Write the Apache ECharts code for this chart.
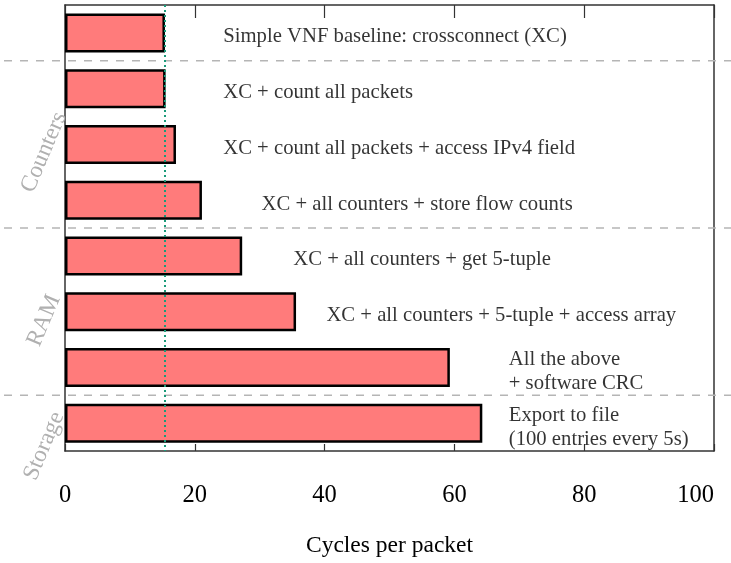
<!DOCTYPE html>
<html>
<head>
<meta charset="utf-8">
<script src="https://cdn.jsdelivr.net/npm/echarts@6/dist/echarts.min.js"></script>
<style>
  html, body { margin: 0; padding: 0; background: #fff; }
  #chart { width: 731px; height: 563px; }
</style>
</head>
<body>
<div id="chart"></div>
<script>
// ---- data ----
const categories = [
  'Simple VNF baseline: crossconnect (XC)',
  'XC + count all packets',
  'XC + count all packets + access IPv4 field',
  'XC + all counters + store flow counts',
  'XC + all counters + get 5-tuple',
  'XC + all counters + 5-tuple + access array',
  'All the above\n+ software CRC',
  'Export to file\n(100 entries every 5s)'
];
const cyclesPerPacket = [15.4, 15.5, 17.1, 21.1, 27.3, 35.6, 59.3, 64.3];
const labelAnchorX = [24.3, 24.3, 24.3, 30.2, 35.1, 40.2, 68.3, 68.3];
const baselineCycles = 15.3;
const xTickValues = [0, 20, 40, 60, 80, 100];
const groupNames = ['Counters', 'RAM', 'Storage'];
const groupCenters = [2.14, 5.16, 7.41];   // in category units
const separatorsAt = [0.5, 3.5, 6.5];      // boundaries between categories

// ---- chart ----
const FONT = 'Liberation Serif';
const chart = echarts.init(document.getElementById('chart'), null, { renderer: 'canvas' });

const labelData = labelAnchorX.map((x, i) => [x, i]);

const option = {
  animation: false,
  backgroundColor: '#ffffff',
  grid: { left: 65, right: 17, top: 5, bottom: 110, containLabel: false },
  xAxis: [
    {
      type: 'value', min: 0, max: 100, interval: 20, position: 'bottom',
      name: 'Cycles per packet', nameLocation: 'middle', nameGap: 83,
      nameTextStyle: { fontFamily: FONT, fontSize: 23.5, color: '#000' },
      axisLine: { show: true, onZero: false, lineStyle: { color: '#333', width: 1.5 } },
      axisTick: { show: true, inside: true, length: 7, lineStyle: { color: '#333', width: 1.2 } },
      axisLabel: {
        show: true, margin: 32, fontFamily: FONT, fontSize: 24.5, color: '#000',
        alignMaxLabel: 'right',
        formatter: v => xTickValues.includes(v) ? String(v) : ''
      },
      splitLine: { show: false }
    },
    {
      type: 'value', min: 0, max: 100, interval: 20, position: 'top',
      axisLine: { show: true, onZero: false, lineStyle: { color: '#333', width: 1.5 } },
      axisTick: { show: true, inside: true, length: 13, lineStyle: { color: '#333', width: 1.2 } },
      axisLabel: { show: false },
      splitLine: { show: false }
    }
  ],
  yAxis: [
    {
      type: 'category', data: categories, inverse: true, position: 'left',
      axisLine: { show: true, onZero: false, lineStyle: { color: '#333', width: 1.5 } },
      axisTick: { show: false },
      axisLabel: { show: false },
      splitLine: { show: false }
    },
    {
      type: 'value', min: -0.5, max: 7.5, inverse: true, position: 'right',
      axisLine: { show: true, onZero: false, lineStyle: { color: '#333', width: 1.5 } },
      axisTick: { show: false },
      axisLabel: { show: false },
      splitLine: { show: false }
    }
  ],
  series: [
    {
      type: 'bar', xAxisIndex: 0, yAxisIndex: 0,
      data: cyclesPerPacket,
      barWidth: 39,
      itemStyle: { color: '#ff7b7b', borderColor: '#000', borderWidth: 2.5 },
      markLine: {
        silent: true, symbol: 'none',
        label: { show: false },
        lineStyle: { color: '#1b9a7a', type: [2, 3], width: 2 },
        data: [{ xAxis: baselineCycles }]
      },
      z: 2
    },
    {
      type: 'scatter', xAxisIndex: 0, yAxisIndex: 0,
      data: labelData,
      symbolSize: 1,
      itemStyle: { color: 'transparent' },
      label: {
        show: true, position: 'right', distance: 0, offset: [0, 4],
        fontFamily: FONT, fontSize: 20.7, lineHeight: 24, color: '#000',
        formatter: p => categories[p.data[1]]
      },
      z: 3
    }
  ]
};
chart.setOption(option);

// decorations placed via axis conversion
const gridRect = chart.getModel().getComponent('grid', 0).coordinateSystem.getRect();
const graphics = [];
separatorsAt.forEach(v => {
  const y = chart.convertToPixel({ yAxisIndex: 1 }, v);
  graphics.push({
    type: 'line', silent: true, z: 1,
    shape: { x1: 4, y1: y, x2: 731, y2: y },
    style: { stroke: '#b5b5b5', lineWidth: 1.5, lineDash: [8, 8] }
  });
});
groupNames.forEach((name, i) => {
  const y = chart.convertToPixel({ yAxisIndex: 1 }, groupCenters[i]);
  graphics.push({
    type: 'text', silent: true, z: 5,
    x: gridRect.x - 21, y: y,
    rotation: 67 * Math.PI / 180,
    style: {
      text: name, fontFamily: FONT, fontSize: 23.5, fill: '#b0b0b0',
      align: 'center', verticalAlign: 'middle'
    }
  });
});
chart.setOption({ graphic: graphics });
</script>
</body>
</html>
